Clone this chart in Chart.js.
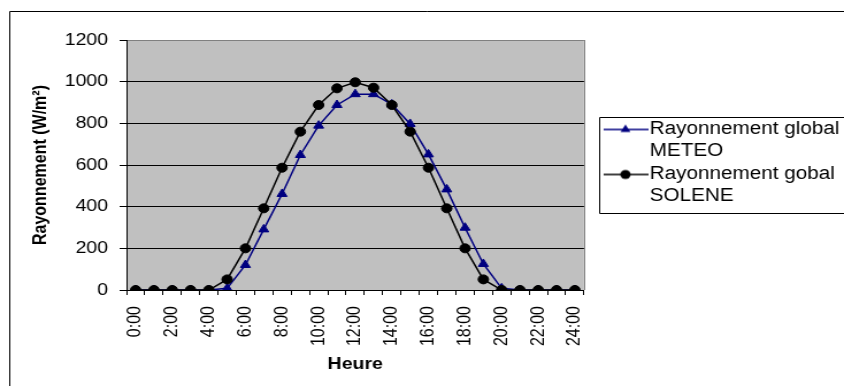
<!DOCTYPE html>
<html>
<head>
<meta charset="utf-8">
<script src="https://cdn.jsdelivr.net/npm/chart.js@4.4.1/dist/chart.umd.min.js"></script>
<style>
  html, body { margin: 0; padding: 0; background: #fff; }
</style>
</head>
<body>
<canvas id="chart" width="734" height="386" style="display:block;width:844px;height:386px"></canvas>
<script>
// Données
const HEURES = ['0:00','1:00','2:00','3:00','4:00','5:00','6:00','7:00','8:00','9:00','10:00','11:00','12:00',
                '13:00','14:00','15:00','16:00','17:00','18:00','19:00','20:00','21:00','22:00','23:00','24:00'];
const METEO  = [0,0,0,0,0,8,120,291,461,648,789,888,940,940,891,797,651,483,299,125,8,0,0,0,0];
const SOLENE = [0,0,0,0,0,51,200,392,587,760,888,968,997,971,888,760,587,392,200,51,0,0,0,0,0];
const LEGENDE = [['Rayonnement global', 'METEO'], ['Rayonnement gobal', 'SOLENE']];
const Y_MIN = 0, Y_MAX = 1200, Y_PAS = 200;

const FONT = "'Liberation Sans', Arial, sans-serif";
const BLEU = '#000080';
const NOIR = '#000000';

// petit pictogramme ligne + marqueur pour la légende
function legendIcon(color, style) {
  const c = document.createElement('canvas');
  c.width = 50; c.height = 14;
  const g = c.getContext('2d');
  g.strokeStyle = color; g.fillStyle = color; g.lineWidth = 1.5;
  g.beginPath(); g.moveTo(11, 7); g.lineTo(50, 7); g.stroke();
  g.beginPath();
  if (style === 'triangle') {
    g.moveTo(30, 7 - 5); g.lineTo(30 + 4.3, 7 + 2.5); g.lineTo(30 - 4.3, 7 + 2.5);
  } else {
    g.arc(30, 7, 4.5, 0, Math.PI * 2);
  }
  g.closePath(); g.fill();
  return c;
}

const decor = {
  id: 'decor',
  beforeDraw(chart) {
    const { ctx, chartArea: a } = chart;
    ctx.save();
    ctx.fillStyle = '#C0C0C0';
    ctx.fillRect(a.left, a.top, a.right - a.left, a.bottom - a.top);
    // cadre extérieur
    ctx.strokeStyle = NOIR; ctx.lineWidth = 1;
    ctx.beginPath();
    ctx.moveTo(8.5, chart.height); ctx.lineTo(8.5, 11.5); ctx.lineTo(chart.width, 11.5);
    ctx.stroke();
    // bord droit de la zone de traçage
    ctx.strokeStyle = '#808080';
    const xr = Math.round(a.right) + 0.5;
    ctx.beginPath(); ctx.moveTo(xr, a.top); ctx.lineTo(xr, a.bottom); ctx.stroke();
    ctx.restore();
  },
  afterDraw(chart) {
    const lg = chart.legend;
    if (!lg || !lg.legendHitBoxes.length) return;
    const hb = lg.legendHitBoxes;
    const { ctx } = chart;
    const x = Math.round(lg.left) + 0.5;
    const top = Math.round(hb[0].top - 4) + 0.5;
    const last = hb[hb.length - 1];
    const bottom = Math.round(last.top + last.height + 3) + 0.5;
    ctx.save();
    ctx.strokeStyle = NOIR; ctx.lineWidth = 1;
    ctx.beginPath();
    ctx.moveTo(chart.width, top); ctx.lineTo(x, top); ctx.lineTo(x, bottom); ctx.lineTo(chart.width, bottom);
    ctx.stroke();
    ctx.restore();
  }
};

Chart.defaults.color = NOIR;
Chart.defaults.font.family = FONT;

const iconMeteo = legendIcon(BLEU, 'triangle');
const iconSolene = legendIcon(NOIR, 'circle');

new Chart(document.getElementById('chart').getContext('2d'), {
  type: 'line',
  data: {
    labels: HEURES,
    datasets: [
      {
        label: 'Rayonnement global METEO',
        data: METEO,
        yAxisID: 'y',
        borderColor: BLEU,
        backgroundColor: BLEU,
        borderWidth: 1.5,
        pointStyle: 'triangle',
        pointRadius: 5,
        pointBorderWidth: 1,
        tension: 0,
        order: 2
      },
      {
        label: 'Rayonnement gobal SOLENE',
        data: SOLENE,
        yAxisID: 'y',
        borderColor: NOIR,
        backgroundColor: NOIR,
        borderWidth: 1.5,
        pointStyle: 'circle',
        pointRadius: 4.5,
        pointBorderWidth: 1,
        tension: 0,
        order: 1
      }
    ]
  },
  options: {
    responsive: false,
    animation: false,
    devicePixelRatio: 1,
    layout: { padding: { top: 40, right: -6, bottom: 0, left: 0 } },
    plugins: {
      tooltip: { enabled: false },
      legend: {
        position: 'right',
        fullSize: false,
        maxWidth: 400,
        labels: {
          usePointStyle: true,
          pointStyleWidth: 34,
          padding: 1,
          color: NOIR,
          font: { size: 18, lineHeight: 22 / 18 },
          generateLabels: () => [
            { text: LEGENDE[0], pointStyle: iconMeteo, fillStyle: BLEU, strokeStyle: BLEU, lineWidth: 0, hidden: false, datasetIndex: 0 },
            { text: LEGENDE[1], pointStyle: iconSolene, fillStyle: NOIR, strokeStyle: NOIR, lineWidth: 0, hidden: false, datasetIndex: 1 }
          ]
        }
      }
    },
    scales: {
      x: {
        type: 'category',
        offset: true,
        grid: { display: true, offset: true, drawOnChartArea: false, tickLength: 5, tickColor: NOIR },
        border: { color: NOIR, width: 1 },
        ticks: {
          autoSkip: false,
          minRotation: 90,
          maxRotation: 90,
          padding: 11,
          font: { size: 16 },
          callback: (v, i) => (i % 2 === 0 ? HEURES[i] : '')
        },
        title: { display: true, text: 'Heure', font: { size: 17, weight: 'bold' }, padding: { top: 0, bottom: 11 } },
        afterFit: s => { s.height = 96; s.paddingLeft = 0; s.paddingRight = 0; }
      },
      y: {
        min: Y_MIN,
        max: Y_MAX,
        ticks: { stepSize: Y_PAS, padding: 10, font: { size: 17 }, callback: v => String(v) },
        grid: {
          color: c => (c.tick && c.tick.value === Y_MAX ? '#808080' : NOIR),
          tickColor: NOIR,
          tickLength: 6,
          lineWidth: 1
        },
        border: { color: NOIR, width: 1 },
        title: { display: true, text: 'Rayonnement (W/m²)', font: { size: 16, weight: 'bold' }, padding: { top: 26, bottom: 0 } },
        afterFit: s => { s.width = 110; s.paddingTop = 0; s.paddingBottom = 0; }
      },
      ecart: {
        type: 'linear',
        position: 'right',
        ticks: { display: false },
        grid: { display: false, drawTicks: false },
        border: { display: false },
        afterFit: s => { s.width = 13; }
      }
    }
  },
  plugins: [decor]
});
</script>
</body>
</html>
